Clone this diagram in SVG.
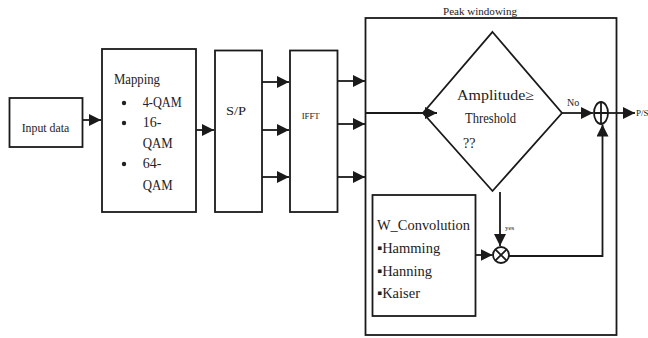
<svg xmlns="http://www.w3.org/2000/svg" width="648" height="338" viewBox="0 0 648 338" font-family="Liberation Serif, DejaVu Serif, serif">
<style>
.box{fill:#fff;stroke:#1a1a1a;stroke-width:1.8}
.ln{fill:none;stroke:#1a1a1a;stroke-width:1.8}
text{fill:#222}
</style>
<defs>
<marker id="ah" markerUnits="userSpaceOnUse" markerWidth="12" markerHeight="12" viewBox="0 0 10 10" refX="10" refY="5" orient="auto">
<path d="M0,0 L10,5 L0,10 z" fill="#1a1a1a"/>
</marker>
</defs>
<rect width="648" height="338" fill="#fff"/>

<g id="peak">
<rect class="box" x="365.5" y="18" width="251" height="317"/>
<text x="480" y="15" font-size="11" text-anchor="middle" textLength="74" lengthAdjust="spacingAndGlyphs">Peak windowing</text>
</g>

<g id="input">
<rect class="box" x="9.5" y="98" width="73" height="49"/>
<text x="21.7" y="132" font-size="12.5" textLength="47.6" lengthAdjust="spacingAndGlyphs">Input data</text>
</g>

<g id="mapping">
<rect class="box" x="102" y="49" width="94" height="163"/>
<text x="114" y="84" font-size="15" textLength="46" lengthAdjust="spacingAndGlyphs">Mapping</text>
<circle cx="124" cy="103" r="2.2" fill="#222"/>
<circle cx="124" cy="123" r="2.2" fill="#222"/>
<circle cx="124" cy="164" r="2.2" fill="#222"/>
<text x="142.7" y="107" font-size="14" textLength="39" lengthAdjust="spacingAndGlyphs">4-QAM</text>
<text x="142.7" y="127" font-size="14">16-</text>
<text x="142.7" y="148" font-size="14" textLength="30" lengthAdjust="spacingAndGlyphs">QAM</text>
<text x="142.7" y="168" font-size="14">64-</text>
<text x="142.7" y="190" font-size="14" textLength="30" lengthAdjust="spacingAndGlyphs">QAM</text>
</g>

<g id="sp">
<rect class="box" x="215" y="50.5" width="47" height="161.5"/>
<text x="226" y="115" font-size="12.5" textLength="20" lengthAdjust="spacingAndGlyphs">S/P</text>
</g>

<g id="ifft">
<rect class="box" x="290" y="50.5" width="47.5" height="161.5"/>
<text x="301.7" y="118.5" font-size="9" textLength="18" lengthAdjust="spacingAndGlyphs">IFFT</text>
</g>

<g id="decision">
<polygon class="box" points="492.5,32 562,113 492.5,191 423,113"/>
<text x="457" y="100" font-size="14" textLength="77" lengthAdjust="spacingAndGlyphs">Amplitude≥</text>
<text x="465" y="123" font-size="14" textLength="51" lengthAdjust="spacingAndGlyphs">Threshold</text>
<text x="463" y="148" font-size="14">??</text>
</g>

<g id="wconv">
<rect class="box" x="372.5" y="195" width="103" height="121"/>
<text x="377" y="230" font-size="14.5" textLength="93" lengthAdjust="spacingAndGlyphs">W_Convolution</text>
<text x="377" y="253" font-size="14.5">▪Hamming</text>
<text x="377" y="276" font-size="14.5">▪Hanning</text>
<text x="377" y="298" font-size="14.5">▪Kaiser</text>
</g>

<g id="adder">
<ellipse class="box" cx="601" cy="113" rx="7" ry="11"/>
<path class="ln" d="M594,113 H608 M601,102 V124"/>
</g>

<g id="multiplier">
<circle class="box" cx="501" cy="255" r="8"/>
<path class="ln" d="M495.3,249.3 L506.7,260.7 M506.7,249.3 L495.3,260.7"/>
</g>

<g id="connectors">
<line class="ln" x1="83" y1="120" x2="101" y2="120" marker-end="url(#ah)"/>
<line class="ln" x1="196" y1="130" x2="214" y2="130" marker-end="url(#ah)"/>
<line class="ln" x1="262" y1="82" x2="289" y2="82" marker-end="url(#ah)"/>
<line class="ln" x1="262" y1="130" x2="289" y2="130" marker-end="url(#ah)"/>
<line class="ln" x1="262" y1="177" x2="289" y2="177" marker-end="url(#ah)"/>
<line class="ln" x1="338" y1="81" x2="365" y2="81" marker-end="url(#ah)"/>
<line class="ln" x1="338" y1="124" x2="365" y2="124" marker-end="url(#ah)"/>
<line class="ln" x1="338" y1="177" x2="365" y2="177" marker-end="url(#ah)"/>
<line class="ln" x1="366" y1="113" x2="437" y2="113" marker-end="url(#ah)"/>
<line class="ln" x1="562" y1="113" x2="593" y2="113" marker-end="url(#ah)"/>
<line class="ln" x1="608" y1="113" x2="635" y2="113" marker-end="url(#ah)"/>
<line class="ln" x1="500" y1="192" x2="500" y2="246" marker-end="url(#ah)"/>
<line class="ln" x1="476" y1="255" x2="492.5" y2="255" marker-end="url(#ah)"/>
<polyline class="ln" points="509,256 602.5,256 602.5,124.5" marker-end="url(#ah)"/>
<text x="567" y="106" font-size="10">No</text>
<text x="505" y="230" font-size="7">yes</text>
<text x="636" y="116" font-size="9">P/S</text>
</g>
</svg>
